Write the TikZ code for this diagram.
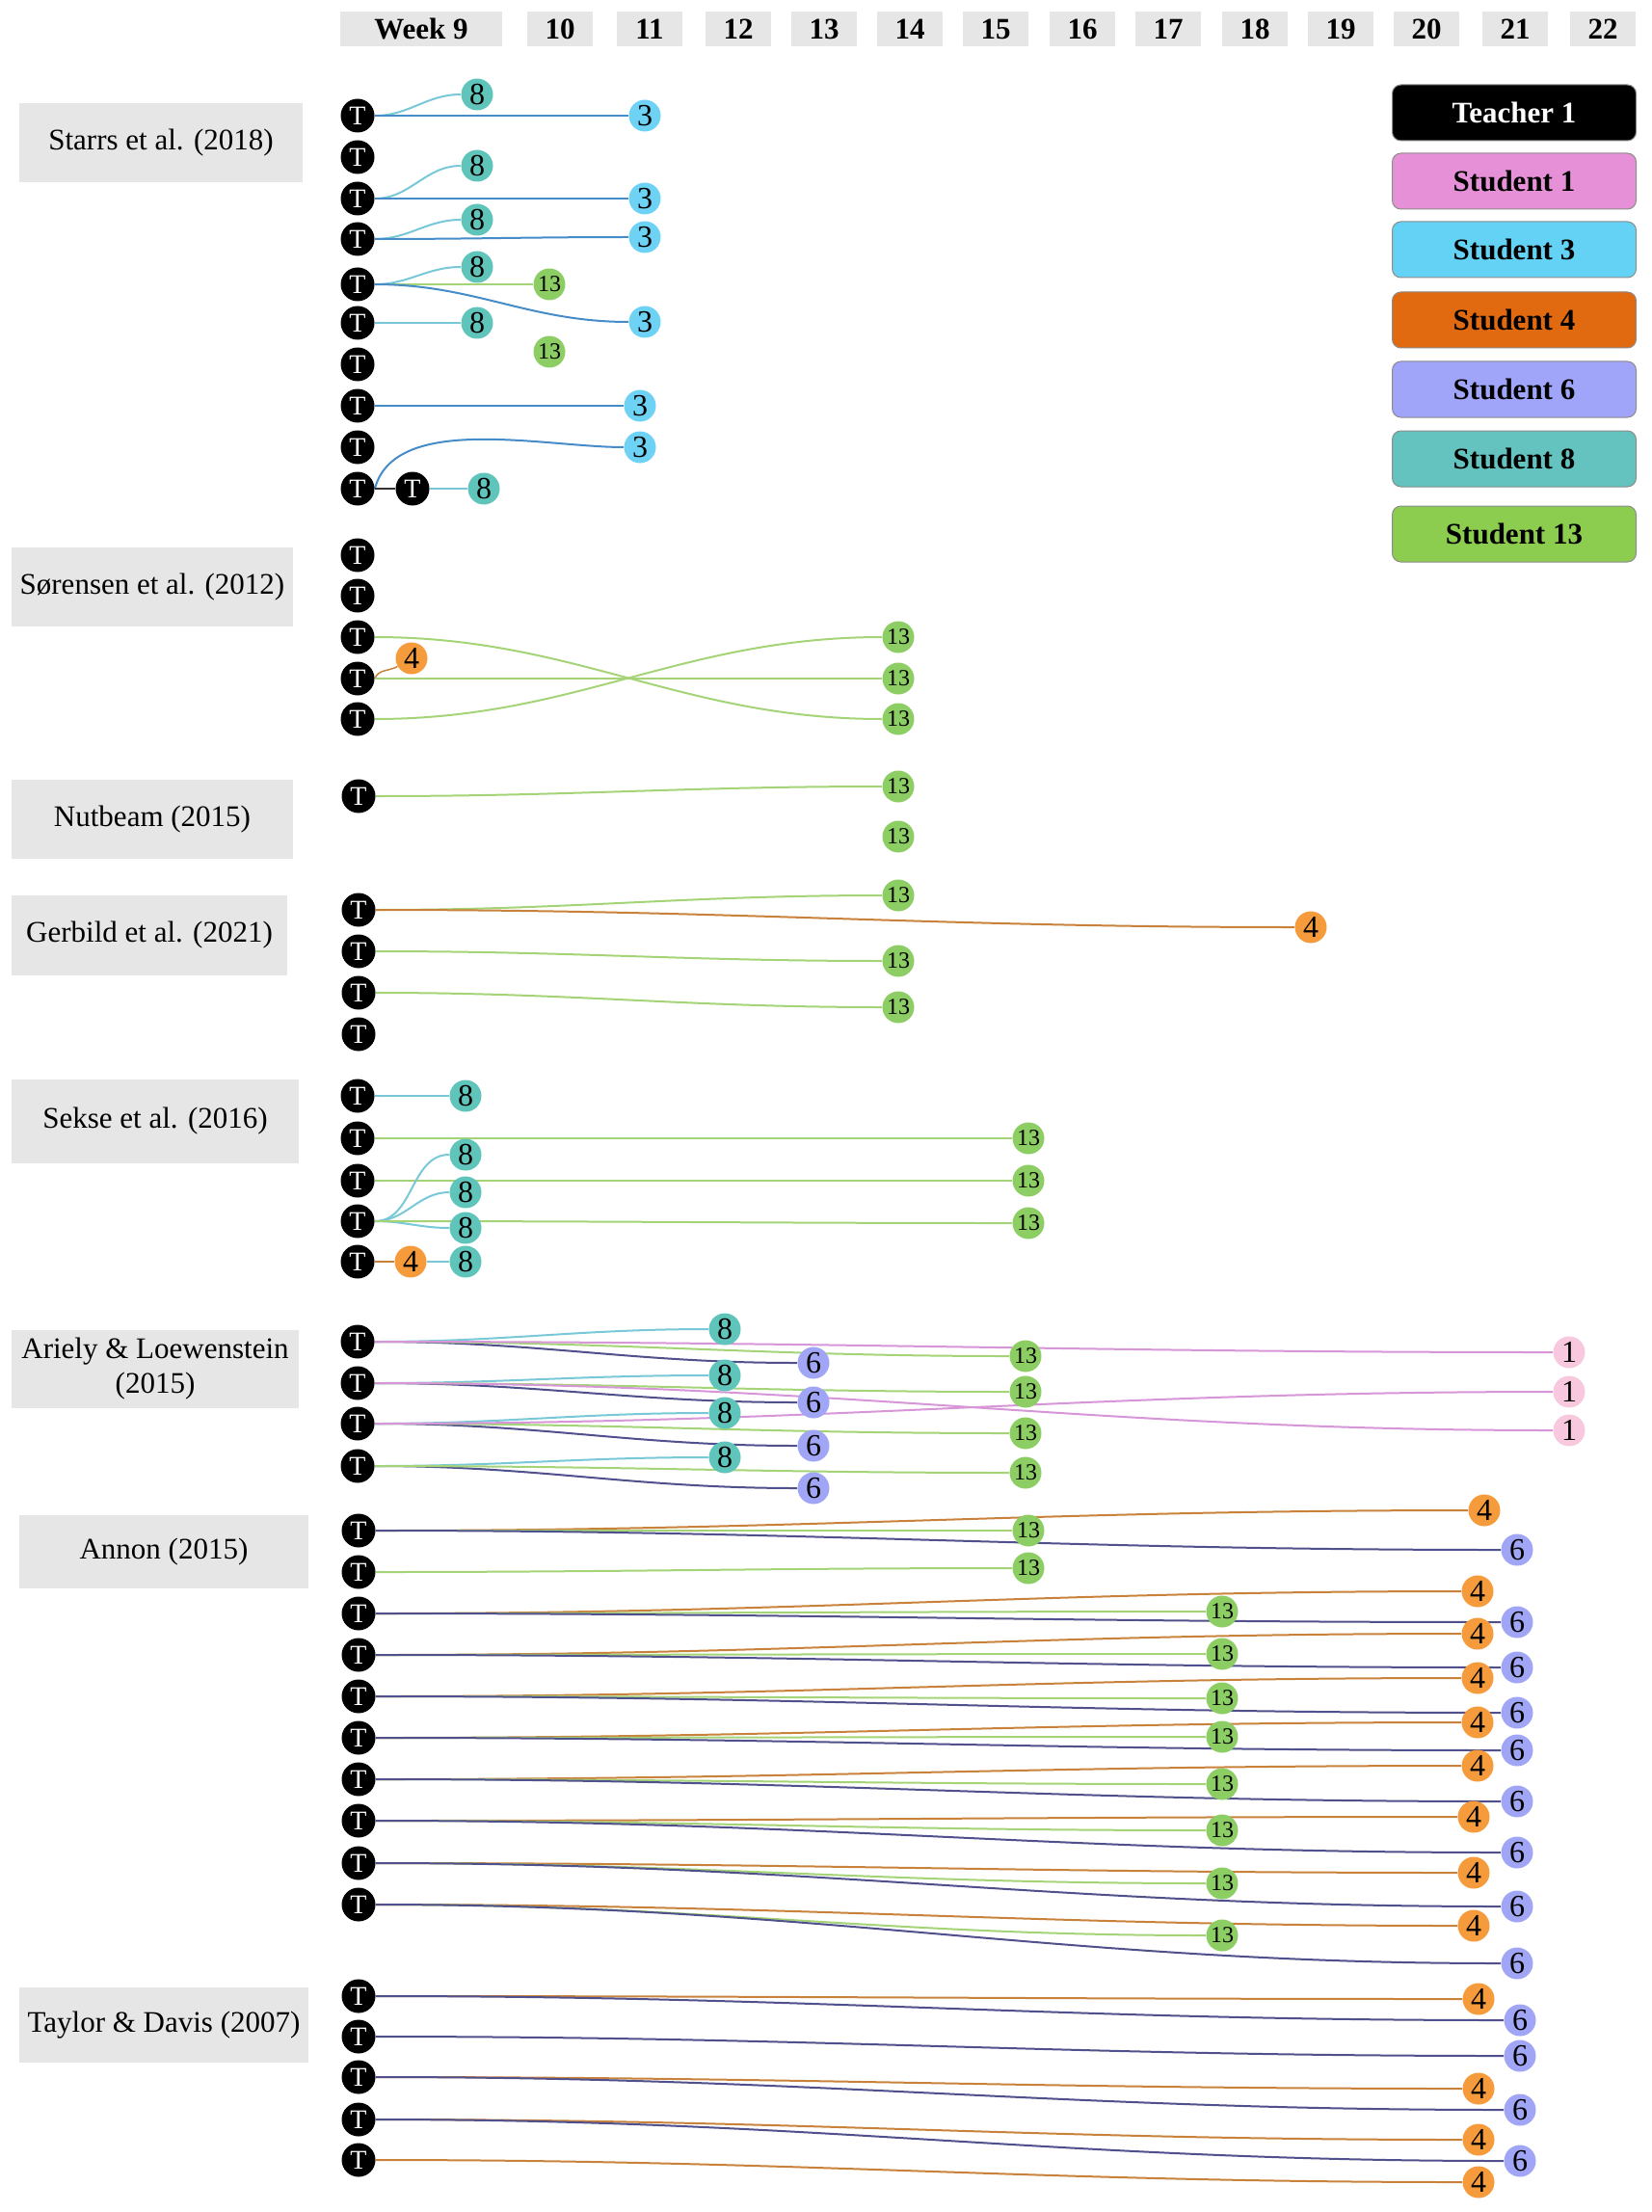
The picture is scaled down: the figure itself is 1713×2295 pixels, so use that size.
\documentclass[tikz,border=0pt]{standalone}
\usepackage{fontspec}
\setmainfont{Liberation Serif}
\usetikzlibrary{backgrounds}

\definecolor{boxgray}{RGB}{230,230,230}
% node fillings
\definecolor{stuone}{RGB}{248,200,222}
\definecolor{stuthree}{RGB}{110,210,245}
\definecolor{stufour}{RGB}{245,155,60}
\definecolor{stusix}{RGB}{160,166,245}
\definecolor{stueight}{RGB}{95,196,186}
\definecolor{stuthirteen}{RGB}{140,205,100}
% legend fillings
\definecolor{legone}{RGB}{230,145,215}
\definecolor{legthree}{RGB}{100,210,245}
\definecolor{legfour}{RGB}{225,105,15}
\definecolor{legsix}{RGB}{160,165,250}
\definecolor{legeight}{RGB}{100,195,190}
\definecolor{legthirteen}{RGB}{140,205,80}
% line colours
\definecolor{lineone}{RGB}{215,150,215}
\definecolor{linethree}{RGB}{70,140,200}
\definecolor{linefour}{RGB}{200,130,60}
\definecolor{linesix}{RGB}{80,80,140}
\definecolor{lineeight}{RGB}{120,200,215}
\definecolor{linethirteen}{RGB}{165,212,120}

\begin{document}
\begin{tikzpicture}[
		x=0.5pt, y=-0.5pt,
		teachernode/.style={
		% The shape:
		circle,
		% The size:
		minimum size=17.5pt, inner sep=0pt,
		% The filling:
		fill=black,
		% Font
		text=white, font=\fontsize{14}{14}\selectfont
			},
		studentnode/.style={
		% The shape:
		circle,
		% The size:
		minimum size=16.5pt, inner sep=0pt,
		% Font
		font=\fontsize{16}{16}\selectfont
			},
		onenode/.style={studentnode, fill=stuone},
		threenode/.style={studentnode, fill=stuthree},
		fournode/.style={studentnode, fill=stufour},
		sixnode/.style={studentnode, fill=stusix},
		eightnode/.style={studentnode, fill=stueight},
		thirteennode/.style={studentnode, fill=stuthirteen, font=\fontsize{12}{12}\selectfont},
		weekbox/.style={
		% The shape:
		rectangle,
		% The size:
		minimum width=34pt, minimum height=18pt, inner sep=1pt,
		% The filling:
		fill=boxgray,
		% Font
		font=\bfseries\fontsize{15.5}{15.5}\selectfont
			},
		studybox/.style={
		rectangle, fill=boxgray, inner sep=1pt, align=center,
		font=\fontsize{15.5}{18}\selectfont
			},
		legendbox/.style={
		rectangle, rounded corners=4.5pt, draw=black!45, line width=0.5pt,
		minimum width=126.5pt, minimum height=29pt,
		font=\bfseries\fontsize{15.5}{15.5}\selectfont
			},
		oneline/.style={draw=lineone, line width=1pt},
		threeline/.style={draw=linethree, line width=1pt},
		fourline/.style={draw=linefour, line width=1pt},
		sixline/.style={draw=linesix, line width=1pt},
		eightline/.style={draw=lineeight, line width=1pt},
		thirteenline/.style={draw=linethirteen, line width=1pt},
		teacherline/.style={draw=black!80, line width=1pt}
	]
	\useasboundingbox (0,0) rectangle (1713,2295);

	% weeks
	\node (W9)[weekbox, minimum width=84pt] at (437,30) {Week 9};
	\node (W10)[weekbox] at (581,30) {10};
	\node (W11)[weekbox] at (674,30) {11};
	\node (W12)[weekbox] at (766,30) {12};
	\node (W13)[weekbox] at (855,30) {13};
	\node (W14)[weekbox] at (944,30) {14};
	\node (W15)[weekbox] at (1033,30) {15};
	\node (W16)[weekbox] at (1123,30) {16};
	\node (W17)[weekbox] at (1212,30) {17};
	\node (W18)[weekbox] at (1302,30) {18};
	\node (W19)[weekbox] at (1391,30) {19};
	\node (W20)[weekbox] at (1480,30) {20};
	\node (W21)[weekbox] at (1572,30) {21};
	\node (W22)[weekbox] at (1663,30) {22};

	% legend
	\node (LT)[legendbox, fill=black, text=white] at (1571,117) {Teacher 1};
	\node (LS1)[legendbox, fill=legone] at (1571,188) {Student 1};
	\node (LS3)[legendbox, fill=legthree] at (1571,259) {Student 3};
	\node (LS4)[legendbox, fill=legfour] at (1571,332) {Student 4};
	\node (LS6)[legendbox, fill=legsix] at (1571,404) {Student 6};
	\node (LS8)[legendbox, fill=legeight] at (1571,476) {Student 8};
	\node (LS13)[legendbox, fill=legthirteen] at (1571,554) {Student 13};

	% studies
	\node (STA)[studybox, minimum width=147pt, minimum height=41pt] at (167,148) {Starrs et al. (2018)};
	\node (SOR)[studybox, minimum width=146pt, minimum height=41pt] at (158,609) {Sørensen et al. (2012)};
	\node (NUT)[studybox, minimum width=146pt, minimum height=41pt] at (158,850) {Nutbeam (2015)};
	\node (GER)[studybox, minimum width=143pt, minimum height=41.5pt] at (155,970) {Gerbild et al. (2021)};
	\node (SEK)[studybox, minimum width=149pt, minimum height=43.5pt] at (161,1163) {Sekse et al. (2016)};
	\node (ARI)[studybox, minimum width=149pt, minimum height=40.5pt] at (161,1420) {Ariely \& Loewenstein\\(2015)};
	\node (ANN)[studybox, minimum width=150pt, minimum height=38pt] at (170,1610) {Annon (2015)};
	\node (TAY)[studybox, minimum width=150pt, minimum height=39pt] at (170,2101) {Taylor \& Davis (2007)};

	% Starrs et al.
	\node (A1)[teachernode] at (371,120) {T};
	\node (A2)[teachernode] at (371,163) {T};
	\node (A3)[teachernode] at (371,206) {T};
	\node (A4)[teachernode] at (371,248) {T};
	\node (A5)[teachernode] at (371,295) {T};
	\node (A6)[teachernode] at (371,335) {T};
	\node (A7)[teachernode] at (371,378) {T};
	\node (A8)[teachernode] at (371,421) {T};
	\node (A9)[teachernode] at (371,464) {T};
	\node (A10)[teachernode] at (371,507) {T};
	\node (A10t)[teachernode] at (428,507) {T};
	\node (A1s8)[eightnode] at (495,98) {8};
	\node (A1s3)[threenode] at (669,120) {3};
	\node (A3s8)[eightnode] at (495,172) {8};
	\node (A3s3)[threenode] at (669,206) {3};
	\node (A4s8)[eightnode] at (495,228) {8};
	\node (A4s3)[threenode] at (669,246) {3};
	\node (A5s8)[eightnode] at (495,277) {8};
	\node (A5s13)[thirteennode] at (570,295) {13};
	\node (A5s3)[threenode] at (669,334) {3};
	\node (A6s8)[eightnode] at (495,335) {8};
	\node (A0s13)[thirteennode] at (570,365) {13};
	\node (A8s3)[threenode] at (664,421) {3};
	\node (A10s3)[threenode] at (664,464) {3};
	\node (A10s8)[eightnode] at (502,507) {8};

	% Sørensen et al.
	\node (B1)[teachernode] at (371,576) {T};
	\node (B2)[teachernode] at (371,618) {T};
	\node (B3)[teachernode] at (371,661) {T};
	\node (B4)[teachernode] at (371,704) {T};
	\node (B5)[teachernode] at (371,746) {T};
	\node (B4s4)[fournode] at (427,683) {4};
	\node (B5s13)[thirteennode] at (932,661) {13};
	\node (B4s13)[thirteennode] at (932,704) {13};
	\node (B3s13)[thirteennode] at (932,746) {13};

	% Nutbeam
	\node (C1)[teachernode] at (372,826) {T};
	\node (C1s13)[thirteennode] at (932,816) {13};
	\node (C0s13)[thirteennode] at (932,868) {13};

	% Gerbild et al.
	\node (D1)[teachernode] at (372,944) {T};
	\node (D2)[teachernode] at (372,987) {T};
	\node (D3)[teachernode] at (372,1030) {T};
	\node (D4)[teachernode] at (372,1073) {T};
	\node (D1s13)[thirteennode] at (932,929) {13};
	\node (D1s4)[fournode] at (1360,962) {4};
	\node (D2s13)[thirteennode] at (932,997) {13};
	\node (D3s13)[thirteennode] at (932,1045) {13};

	% Sekse et al.
	\node (E1)[teachernode] at (371,1137) {T};
	\node (E2)[teachernode] at (371,1181) {T};
	\node (E3)[teachernode] at (371,1225) {T};
	\node (E4)[teachernode] at (371,1267) {T};
	\node (E5)[teachernode] at (371,1309) {T};
	\node (E1s8)[eightnode] at (483,1137) {8};
	\node (E4s8a)[eightnode] at (483,1198) {8};
	\node (E4s8b)[eightnode] at (483,1237) {8};
	\node (E4s8c)[eightnode] at (483,1274) {8};
	\node (E5s4)[fournode] at (426,1309) {4};
	\node (E5s8)[eightnode] at (483,1309) {8};
	\node (E2s13)[thirteennode] at (1067,1181) {13};
	\node (E3s13)[thirteennode] at (1067,1225) {13};
	\node (E4s13)[thirteennode] at (1067,1269) {13};

	% Ariely & Loewenstein
	\node (F1)[teachernode] at (371,1392) {T};
	\node (F2)[teachernode] at (371,1435) {T};
	\node (F3)[teachernode] at (371,1477) {T};
	\node (F4)[teachernode] at (371,1521) {T};
	\node (F1s8)[eightnode] at (752,1379) {8};
	\node (F2s8)[eightnode] at (752,1427) {8};
	\node (F3s8)[eightnode] at (752,1466) {8};
	\node (F4s8)[eightnode] at (752,1512) {8};
	\node (F1s6)[sixnode] at (844,1414) {6};
	\node (F2s6)[sixnode] at (844,1455) {6};
	\node (F3s6)[sixnode] at (844,1500) {6};
	\node (F4s6)[sixnode] at (844,1544) {6};
	\node (F1s13)[thirteennode] at (1064,1407) {13};
	\node (F2s13)[thirteennode] at (1064,1444) {13};
	\node (F3s13)[thirteennode] at (1064,1487) {13};
	\node (F4s13)[thirteennode] at (1064,1528) {13};
	\node (F1s1)[onenode] at (1628,1403) {1};
	\node (F3s1)[onenode] at (1628,1444) {1};
	\node (F2s1)[onenode] at (1628,1484) {1};

	% Annon
	\node (G1)[teachernode] at (372,1588) {T};
	\node (G2)[teachernode] at (372,1631) {T};
	\node (G3)[teachernode] at (372,1674) {T};
	\node (G4)[teachernode] at (372,1717) {T};
	\node (G5)[teachernode] at (372,1760) {T};
	\node (G6)[teachernode] at (372,1803) {T};
	\node (G7)[teachernode] at (372,1846) {T};
	\node (G8)[teachernode] at (372,1889) {T};
	\node (G9)[teachernode] at (372,1933) {T};
	\node (G10)[teachernode] at (372,1976) {T};
	\node (G1s13)[thirteennode] at (1067,1588) {13};
	\node (G2s13)[thirteennode] at (1067,1627) {13};
	\node (G3s13)[thirteennode] at (1268,1672) {13};
	\node (G4s13)[thirteennode] at (1268,1716) {13};
	\node (G5s13)[thirteennode] at (1268,1762) {13};
	\node (G6s13)[thirteennode] at (1268,1802) {13};
	\node (G7s13)[thirteennode] at (1268,1851) {13};
	\node (G8s13)[thirteennode] at (1268,1899) {13};
	\node (G9s13)[thirteennode] at (1268,1954) {13};
	\node (G10s13)[thirteennode] at (1268,2008) {13};
	\node (G1s4)[fournode] at (1540,1567) {4};
	\node (G3s4)[fournode] at (1533,1651) {4};
	\node (G4s4)[fournode] at (1533,1695) {4};
	\node (G5s4)[fournode] at (1533,1741) {4};
	\node (G6s4)[fournode] at (1533,1787) {4};
	\node (G7s4)[fournode] at (1533,1832) {4};
	\node (G8s4)[fournode] at (1529,1885) {4};
	\node (G9s4)[fournode] at (1529,1943) {4};
	\node (G10s4)[fournode] at (1529,1998) {4};
	\node (G1s6)[sixnode] at (1574,1608) {6};
	\node (G3s6)[sixnode] at (1574,1683) {6};
	\node (G4s6)[sixnode] at (1574,1730) {6};
	\node (G5s6)[sixnode] at (1574,1777) {6};
	\node (G6s6)[sixnode] at (1574,1816) {6};
	\node (G7s6)[sixnode] at (1574,1869) {6};
	\node (G8s6)[sixnode] at (1574,1922) {6};
	\node (G9s6)[sixnode] at (1574,1978) {6};
	\node (G10s6)[sixnode] at (1574,2037) {6};

	% Taylor & Davis
	\node (H1)[teachernode] at (372,2071) {T};
	\node (H2)[teachernode] at (372,2113) {T};
	\node (H3)[teachernode] at (372,2155) {T};
	\node (H4)[teachernode] at (372,2199) {T};
	\node (H5)[teachernode] at (372,2241) {T};
	\node (H1s4)[fournode] at (1534,2074) {4};
	\node (H3s4)[fournode] at (1534,2167) {4};
	\node (H4s4)[fournode] at (1534,2220) {4};
	\node (H5s4)[fournode] at (1534,2264) {4};
	\node (H1s6)[sixnode] at (1577,2096) {6};
	\node (H2s6)[sixnode] at (1577,2133) {6};
	\node (H3s6)[sixnode] at (1577,2189) {6};
	\node (H4s6)[sixnode] at (1577,2242) {6};

	\begin{scope}[on background layer]
	% Starrs et al.
	\draw [eightline] (A1) to[out=0,in=180] (A1s8);
	\draw [threeline] (A1) to[out=0,in=180] (A1s3);
	\draw [eightline] (A3) to[out=0,in=180] (A3s8);
	\draw [threeline] (A3) to[out=0,in=180] (A3s3);
	\draw [eightline] (A4) to[out=0,in=180] (A4s8);
	\draw [threeline] (A4) to[out=0,in=180] (A4s3);
	\draw [eightline] (A5) to[out=0,in=180] (A5s8);
	\draw [thirteenline] (A5) to[out=0,in=180] (A5s13);
	\draw [threeline] (A5) to[out=0,in=180] (A5s3);
	\draw [eightline] (A6) to[out=0,in=180] (A6s8);
	\draw [threeline] (A8) to[out=0,in=180] (A8s3);
	\draw [threeline] (A10.east) to[out=75,in=180,looseness=0.8] (A10s3);
	\draw [teacherline] (A10) -- (A10t);
	\draw [eightline] (A10t) -- (A10s8);
	% Sørensen et al.
	\draw [fourline, line width=0.75pt] (B4.east) to[out=70,in=210] (B4s4);
	\draw [thirteenline] (B3) to[out=0,in=180] (B3s13);
	\draw [thirteenline] (B4) to[out=0,in=180] (B4s13);
	\draw [thirteenline] (B5) to[out=0,in=180] (B5s13);
	% Nutbeam
	\draw [thirteenline] (C1) to[out=0,in=180] (C1s13);
	% Gerbild et al.
	\draw [thirteenline] (D1) to[out=0,in=180] (D1s13);
	\draw [fourline] (D1) to[out=0,in=180] (D1s4);
	\draw [thirteenline] (D2) to[out=0,in=180] (D2s13);
	\draw [thirteenline] (D3) to[out=0,in=180] (D3s13);
	% Sekse et al.
	\draw [eightline] (E1) -- (E1s8);
	\draw [thirteenline] (E2) -- (E2s13);
	\draw [thirteenline] (E3) -- (E3s13);
	\draw [eightline] (E4) to[out=0,in=180] (E4s8a);
	\draw [eightline] (E4) to[out=0,in=180] (E4s8b);
	\draw [eightline] (E4) to[out=0,in=180] (E4s8c);
	\draw [thirteenline] (E4) to[out=0,in=180] (E4s13);
	\draw [fourline] (E5) -- (E5s4);
	\draw [eightline] (E5s4) -- (E5s8);
	% Ariely & Loewenstein
	\draw [eightline] (F1) to[out=0,in=180] (F1s8);
	\draw [sixline] (F1) to[out=0,in=180] (F1s6);
	\draw [thirteenline] (F1) to[out=0,in=180] (F1s13);
	\draw [oneline] (F1) to[out=0,in=180] (F1s1);
	\draw [eightline] (F2) to[out=0,in=180] (F2s8);
	\draw [sixline] (F2) to[out=0,in=180] (F2s6);
	\draw [thirteenline] (F2) to[out=0,in=180] (F2s13);
	\draw [oneline] (F2) to[out=0,in=180] (F2s1);
	\draw [eightline] (F3) to[out=0,in=180] (F3s8);
	\draw [sixline] (F3) to[out=0,in=180] (F3s6);
	\draw [thirteenline] (F3) to[out=0,in=180] (F3s13);
	\draw [oneline] (F3) to[out=0,in=180] (F3s1);
	\draw [eightline] (F4) to[out=0,in=180] (F4s8);
	\draw [sixline] (F4) to[out=0,in=180] (F4s6);
	\draw [thirteenline] (F4) to[out=0,in=180] (F4s13);
	% Annon
	\draw [fourline] (G1) to[out=0,in=180] (G1s4);
	\draw [thirteenline] (G1) to[out=0,in=180] (G1s13);
	\draw [sixline] (G1) to[out=0,in=180] (G1s6);
	\draw [thirteenline] (G2) to[out=0,in=180] (G2s13);
	\draw [fourline] (G3) to[out=0,in=180] (G3s4);
	\draw [thirteenline] (G3) to[out=0,in=180] (G3s13);
	\draw [sixline] (G3) to[out=0,in=180] (G3s6);
	\draw [fourline] (G4) to[out=0,in=180] (G4s4);
	\draw [thirteenline] (G4) to[out=0,in=180] (G4s13);
	\draw [sixline] (G4) to[out=0,in=180] (G4s6);
	\draw [fourline] (G5) to[out=0,in=180] (G5s4);
	\draw [thirteenline] (G5) to[out=0,in=180] (G5s13);
	\draw [sixline] (G5) to[out=0,in=180] (G5s6);
	\draw [fourline] (G6) to[out=0,in=180] (G6s4);
	\draw [thirteenline] (G6) to[out=0,in=180] (G6s13);
	\draw [sixline] (G6) to[out=0,in=180] (G6s6);
	\draw [fourline] (G7) to[out=0,in=180] (G7s4);
	\draw [thirteenline] (G7) to[out=0,in=180] (G7s13);
	\draw [sixline] (G7) to[out=0,in=180] (G7s6);
	\draw [fourline] (G8) to[out=0,in=180] (G8s4);
	\draw [thirteenline] (G8) to[out=0,in=180] (G8s13);
	\draw [sixline] (G8) to[out=0,in=180] (G8s6);
	\draw [fourline] (G9) to[out=0,in=180] (G9s4);
	\draw [thirteenline] (G9) to[out=0,in=180] (G9s13);
	\draw [sixline] (G9) to[out=0,in=180] (G9s6);
	\draw [fourline] (G10) to[out=0,in=180] (G10s4);
	\draw [thirteenline] (G10) to[out=0,in=180] (G10s13);
	\draw [sixline] (G10) to[out=0,in=180] (G10s6);
	% Taylor & Davis
	\draw [fourline] (H1) to[out=0,in=180] (H1s4);
	\draw [sixline] (H1) to[out=0,in=180] (H1s6);
	\draw [sixline] (H2) to[out=0,in=180] (H2s6);
	\draw [fourline] (H3) to[out=0,in=180] (H3s4);
	\draw [sixline] (H3) to[out=0,in=180] (H3s6);
	\draw [fourline] (H4) to[out=0,in=180] (H4s4);
	\draw [sixline] (H4) to[out=0,in=180] (H4s6);
	\draw [fourline] (H5) to[out=0,in=180] (H5s4);
	\end{scope}
\end{tikzpicture}
\end{document}
